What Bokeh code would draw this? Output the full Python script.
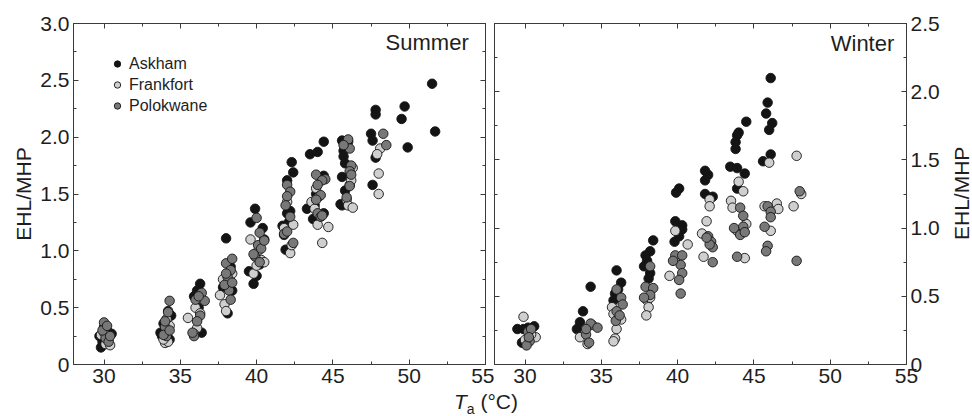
import math
from bokeh.plotting import figure
from bokeh.models import (Range1d, LinearAxis, Label, Legend, LegendItem,
                          ColumnDataSource, Div, PrintfTickFormatter, FixedTicker)
from bokeh.layouts import row, column
from bokeh.embed import file_html
from bokeh.resources import INLINE

# ---------------- data ----------------
series_names = ["Askham", "Frankfort", "Polokwane"]
panel_titles = ["Summer", "Winter"]
y_title = "EHL/MHP"
x_ticks = [30, 35, 40, 45, 50, 55]
x_minor = [32.5, 37.5, 42.5, 47.5, 52.5]
y_ticks_summer = [0, 0.5, 1.0, 1.5, 2.0, 2.5, 3.0]
y_minor_summer = [0.25, 0.75, 1.25, 1.75, 2.25, 2.75]
y_ticks_winter = [0, 0.5, 1.0, 1.5, 2.0, 2.5]
y_minor_winter = [0.25, 0.75, 1.25, 1.75, 2.25]

summer_askham_x = [29.7, 29.8, 30.2, 30.5, 30.0, 29.9,
                   33.8, 34.0, 34.2, 34.4, 33.9, 34.3, 33.7,
                   36.3, 36.1, 36.4, 35.9, 36.2,
                   38.0, 38.1, 38.3, 37.8, 38.4, 38.2,
                   39.9, 39.6, 40.4, 39.8, 40.0, 39.5, 40.2, 40.5,
                   42.3, 42.4, 42.0, 42.2, 42.0, 41.8, 41.9, 42.1, 41.7,
                   43.5, 44.0, 44.4, 44.4, 43.9, 43.3, 43.7, 44.4, 43.8,
                   45.6, 46.0, 45.7, 45.8, 45.6, 45.8, 45.6, 45.5, 45.7,
                   47.8, 47.8, 47.5, 47.6, 47.8, 47.6,
                   49.7, 49.5, 49.9,
                   51.5, 51.7]
summer_askham_y = [0.25, 0.15, 0.30, 0.27, 0.33, 0.20,
                   0.25, 0.30, 0.47, 0.43, 0.36, 0.22, 0.28,
                   0.71, 0.65, 0.28, 0.60, 0.50,
                   1.11, 0.45, 0.86, 0.68, 0.65, 0.75,
                   1.37, 1.25, 1.20, 0.71, 0.78, 0.82, 0.88, 1.10,
                   1.78, 1.69, 1.62, 1.35, 1.33, 1.14, 1.01, 1.25, 1.22,
                   1.85, 1.87, 1.96, 1.66, 1.50, 1.37, 1.28, 1.33, 1.40,
                   1.97, 1.96, 1.83, 1.77, 1.65, 1.53, 1.40, 1.41, 1.88,
                   2.24, 2.20, 2.03, 1.97, 1.82, 1.58,
                   2.27, 2.16, 1.91,
                   2.47, 2.05]

summer_frankfort_x = [29.8, 30.1, 30.3, 30.0, 30.4,
                      34.0, 34.2, 34.3, 33.9, 34.1,
                      35.5, 36.0, 36.1, 36.3, 35.9,
                      37.6, 37.9, 38.0, 38.2, 37.8, 38.4,
                      39.6, 39.8, 40.0, 40.3, 40.5, 40.1,
                      42.2, 42.4, 42.0, 42.3, 41.8,
                      43.6, 43.8, 44.0, 44.7, 44.3, 43.9, 44.1,
                      46.3, 46.1, 45.9, 46.0, 46.3, 46.2,
                      48.1, 47.9, 48.0, 48.0]
summer_frankfort_y = [0.26, 0.18, 0.22, 0.28, 0.17,
                      0.19, 0.20, 0.34, 0.22, 0.40,
                      0.41, 0.50, 0.32, 0.45, 0.27,
                      0.61, 0.53, 0.47, 0.72, 0.75, 0.80,
                      1.10, 0.80, 0.87, 0.92, 0.90, 1.00,
                      0.98, 1.23, 1.43, 1.05, 1.20,
                      1.43, 1.37, 1.23, 1.21, 1.07, 1.55, 1.48,
                      1.73, 1.58, 1.45, 1.40, 1.38, 1.62,
                      1.90, 1.85, 1.68, 1.50]

summer_polokwane_x = [30.0, 30.1, 30.3, 29.9, 30.2, 30.4,
                      34.3, 34.2, 34.0, 34.1, 33.9, 34.3, 34.0,
                      36.4, 36.6, 36.3, 36.0, 35.9, 36.1, 36.2, 35.8,
                      38.0, 38.4, 38.3, 38.1, 38.2, 38.3, 37.9, 38.4, 38.0,
                      40.0, 40.2, 40.1, 39.9, 40.3, 40.5, 40.2, 39.8,
                      42.0, 42.2, 42.0, 41.8, 42.0, 42.4, 42.2, 41.9,
                      43.9, 44.5, 44.3, 44.0, 44.2, 43.9, 44.0, 44.2, 44.3,
                      46.0, 46.1, 46.2, 46.1, 46.2, 46.1, 45.9, 45.7,
                      48.3, 48.5]
summer_polokwane_y = [0.37, 0.23, 0.20, 0.30, 0.34, 0.25,
                      0.56, 0.46, 0.33, 0.25, 0.26, 0.30, 0.38,
                      0.63, 0.56, 0.43, 0.57, 0.25, 0.38, 0.60, 0.28,
                      0.89, 0.93, 0.83, 0.77, 0.65, 0.57, 0.70, 0.72, 0.80,
                      1.29, 1.16, 1.05, 0.95, 1.02, 1.09, 0.90, 0.97,
                      1.58, 1.52, 1.48, 1.15, 1.17, 1.07, 1.30, 1.40,
                      1.67, 1.63, 1.62, 1.58, 1.49, 1.45, 1.33, 1.30, 1.31,
                      1.98, 1.90, 1.75, 1.70, 1.67, 1.57, 1.47, 1.93,
                      2.03, 1.93]

winter_askham_x = [29.5, 29.9, 30.6, 29.8, 30.2,
                   34.3, 33.8, 33.4, 33.6,
                   36.0, 36.3, 35.9, 35.8, 36.1,
                   38.4, 38.2, 37.9, 37.8, 38.0, 38.2, 38.1,
                   39.9, 40.1, 39.85, 40.3, 39.8, 40.1, 40.3,
                   41.8, 42.0, 41.8, 41.8, 42.3,
                   43.8, 43.9, 43.8, 44.0, 44.5, 43.45, 43.9, 44.4, 43.9,
                   46.1, 45.9, 45.8, 46.2, 46.0, 46.1, 45.6]
winter_askham_y = [0.26, 0.26, 0.28, 0.16, 0.27,
                   0.57, 0.39, 0.26, 0.31,
                   0.69, 0.60, 0.52, 0.47, 0.55,
                   0.91, 0.83, 0.80, 0.72, 0.76, 0.67, 0.63,
                   1.26, 1.29, 1.05, 0.99, 0.90, 0.94, 1.02,
                   1.42, 1.39, 1.35, 1.25, 1.23,
                   1.58, 1.68, 1.63, 1.70, 1.78, 1.45, 1.44, 1.40, 1.29,
                   2.10, 1.92, 1.84, 1.77, 1.72, 1.54, 1.49]

winter_frankfort_x = [29.9, 30.7, 30.0, 30.4,
                      33.6, 34.1, 34.4,
                      35.7, 35.8, 36.0, 35.9, 35.8, 36.3,
                      38.0, 38.1, 37.95, 38.2,
                      39.85, 40.66, 39.47, 39.8,
                      42.1, 42.1, 41.9, 41.7, 41.6,
                      44.0, 44.3, 43.5, 43.6, 44.5, 43.9, 44.4,
                      46.0, 46.5, 46.6, 45.7, 46.1,
                      47.8, 48.1, 47.6]
winter_frankfort_y = [0.35, 0.20, 0.18, 0.22,
                      0.20, 0.15, 0.29,
                      0.42, 0.37, 0.26, 0.19, 0.17, 0.33,
                      0.47, 0.42, 0.36, 0.49,
                      0.98, 0.88, 0.65, 0.77,
                      1.21, 1.16, 1.05, 0.79, 0.96,
                      1.34, 1.27, 1.20, 1.15, 1.03, 0.98, 0.78,
                      1.48, 1.18, 1.14, 1.16, 0.98,
                      1.53, 1.25, 1.16]

winter_polokwane_x = [30.2, 30.4, 30.3, 30.1, 30.25,
                      34.3, 34.0, 34.0, 34.2, 34.75,
                      36.0, 36.3, 36.4, 36.0, 35.95, 36.2,
                      38.2, 37.9, 38.4, 38.2, 37.8,
                      39.85, 40.3, 40.2, 40.3, 40.1, 39.7, 40.2,
                      42.0, 42.2, 42.3, 42.3, 42.1, 41.9,
                      44.1, 44.3, 44.3, 43.7, 44.1, 44.4, 43.9,
                      45.9, 46.1, 46.1, 45.7, 45.9, 45.8,
                      48.0, 47.8]
winter_polokwane_y = [0.24, 0.26, 0.17, 0.14, 0.20,
                      0.30, 0.22, 0.26, 0.16, 0.27,
                      0.55, 0.49, 0.44, 0.39, 0.32, 0.36,
                      0.72, 0.57, 0.56, 0.51, 0.49,
                      0.80, 0.80, 0.73, 0.67, 0.62, 0.76, 0.52,
                      0.94, 0.90, 0.86, 0.75, 0.88, 0.93,
                      1.15, 1.09, 1.01, 1.00, 0.95, 0.97, 0.79,
                      1.16, 1.12, 1.08, 1.01, 0.87, 0.83,
                      1.27, 0.76]

# ---------------- styling ----------------
FONT = "Liberation Sans"
AX = "#3a3a3a"
TXT = "#1e1e1e"
fills = ["#141414", "#cfcfcf", "#787878"]


def style_axis(ax, labels=True):
    ax.major_tick_in = 5
    ax.major_tick_out = 0
    ax.minor_tick_in = 3
    ax.minor_tick_out = 0
    ax.axis_line_color = AX
    ax.major_tick_line_color = AX
    ax.minor_tick_line_color = AX
    ax.major_label_text_font = FONT
    ax.major_label_text_color = TXT
    ax.major_label_text_font_size = "21px"
    ax.axis_label_text_font = FONT
    ax.axis_label_text_font_style = "normal"
    ax.axis_label_text_font_size = "21px"
    ax.axis_label_text_color = TXT
    ax.major_label_standoff = 4
    if not labels:
        ax.major_label_text_font_size = "1px"
        ax.major_label_text_color = None
        ax.major_label_standoff = 0


def make_panel(width, mb_left, mb_right, ymax, yt, ym, data, title, title_xy, side):
    p = figure(width=width, height=392, x_range=Range1d(28, 55), y_range=Range1d(0, ymax),
               output_backend="svg", toolbar_location=None,
               x_axis_location=None, y_axis_location=None,
               min_border_left=mb_left, min_border_right=mb_right,
               min_border_top=23, min_border_bottom=28)
    for g in p.grid:
        g.grid_line_color = None
    p.outline_line_color = AX
    p.background_fill_color = "white"
    p.border_fill_color = "white"

    xt = FixedTicker(ticks=x_ticks, minor_ticks=x_minor)
    ytk = FixedTicker(ticks=yt, minor_ticks=ym)
    fmt = PrintfTickFormatter(format="%.1f")

    below = LinearAxis(ticker=xt)
    style_axis(below, True)
    above = LinearAxis(ticker=xt)
    style_axis(above, False)
    p.add_layout(below, "below")
    p.add_layout(above, "above")

    y_lab = LinearAxis(ticker=ytk, formatter=fmt, major_label_overrides={0: "0"})
    style_axis(y_lab, True)
    y_nolab = LinearAxis(ticker=ytk)
    style_axis(y_nolab, False)
    if side == "left":
        y_lab.axis_label = y_title
        y_lab.axis_label_standoff = 2
        p.add_layout(y_lab, "left")
        p.add_layout(y_nolab, "right")
    else:
        p.add_layout(y_nolab, "left")
        p.add_layout(y_lab, "right")

    renderers = []
    for (xs, ys), fc in zip(data, fills):
        src = ColumnDataSource(dict(x=xs, y=ys))
        r = p.scatter("x", "y", source=src, size=9.5, fill_color=fc,
                      line_color="#151515", line_width=0.9)
        renderers.append(r)

    p.add_layout(Label(x=title_xy[0], y=title_xy[1], text=title, text_align="right",
                       text_baseline="middle", text_font=FONT, text_font_size="22px",
                       text_color=TXT))
    return p, renderers


summer, rs = make_panel(494, 73, 9, 3.0, y_ticks_summer, y_minor_summer,
                        [(summer_askham_x, summer_askham_y),
                         (summer_frankfort_x, summer_frankfort_y),
                         (summer_polokwane_x, summer_polokwane_y)],
                        panel_titles[0], (53.9, 2.83), "left")
winter, rw = make_panel(458, 0, 46, 2.5, y_ticks_winter, y_minor_winter,
                        [(winter_askham_x, winter_askham_y),
                         (winter_frankfort_x, winter_frankfort_y),
                         (winter_polokwane_x, winter_polokwane_y)],
                        panel_titles[1], (54.2, 2.357), "right")

legend = Legend(items=[LegendItem(label=n, renderers=[r]) for n, r in zip(series_names, rs)],
                location=(36, 248), padding=0, margin=0, spacing=0,
                glyph_width=16, glyph_height=21, label_height=21, label_standoff=4,
                label_text_font=FONT, label_text_font_size="16px", label_text_color=TXT,
                background_fill_alpha=0, border_line_color=None)
summer.add_layout(legend)

right_label = Div(
    text=('<div style="writing-mode:vertical-rl;transform:rotate(180deg);height:341px;'
          'margin-top:23px;text-align:center;font-size:21px;font-family:\'Liberation Sans\';'
          'line-height:20px;color:%s;white-space:nowrap;">%s</div>' % (TXT, y_title)),
    width=20, height=392, margin=(0, 0, 0, 0))

xlabel = Div(text='<i>T</i><sub style="font-size:14px">a</sub> (°C)', width=972, height=24,
             margin=(0, 0, 0, 0),
             styles={"text-align": "center", "font-family": FONT, "font-size": "21px",
                     "color": TXT, "line-height": "20px", "width": "972px"})

layout = column(row(summer, winter, right_label, spacing=0), xlabel, spacing=0)

open("out.html", "w").write(file_html(layout, INLINE))
